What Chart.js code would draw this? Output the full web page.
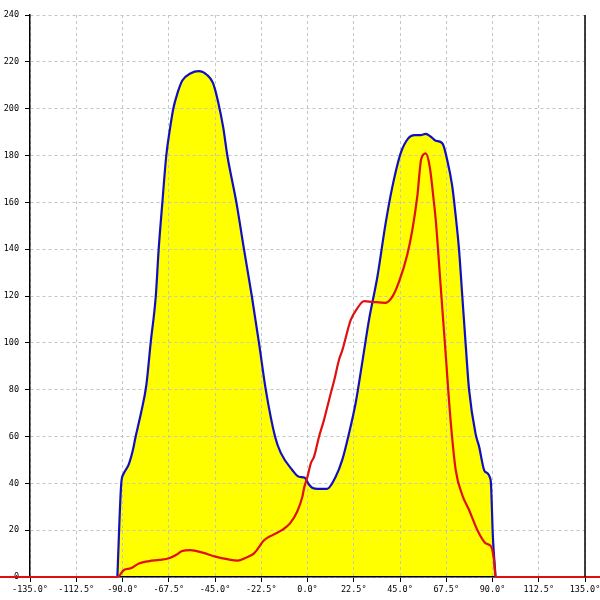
<!DOCTYPE html>
<html>
<head>
<meta charset="utf-8">
<title>Diagrama</title>
<script src="https://cdn.jsdelivr.net/npm/chart.js@4.4.0/dist/chart.umd.min.js"></script>
<style>
    html, body { margin: 0; padding: 0; background: #fff; }
    #contenedor { width: 600px; height: 600px; }
</style>
</head>
<body>
<div id="contenedor"><canvas id="chartDiagrama" width="600" height="600"></canvas></div>
<script>
// Ticks de los ejes
const ticksX = [-135, -112.5, -90, -67.5, -45, -22.5, 0, 22.5, 45, 67.5, 90, 112.5, 135];
const ticksY = [0, 20, 40, 60, 80, 100, 120, 140, 160, 180, 200, 220, 240];

// Curva azul (envolvente, rellena de amarillo)
const anguloAzul = [-92.5, -90.6, -89.5, -87, -85, -83.6, -81, -78.4, -76.3, -73.8, -72.4, -70.6,
    -68.7, -66.8, -65.3, -63.3, -60.9, -57, -52.8, -49, -46, -43.5, -41, -39, -34.6, -30.9, -27.1,
    -23.6, -20.3, -15.8, -13, -7.4, -4.1, -1.5, 0.7, 2.5, 5, 9.5, 13.7, 16.9, 20.2, 23.4, 26.7,
    29.9, 34, 38, 41.3, 45.3, 49, 52, 55, 57.5, 60, 62.4, 65.6, 68, 70.4, 72, 73.7, 75.3, 76.9,
    78.6, 81.8, 83.4, 86.3, 89.1, 90.2, 91.5];
const valorAzul = [0, 40, 44, 48, 54, 60, 70, 82, 100, 120, 140, 160,
    180, 192, 200, 206.5, 212, 215, 216, 214.5, 211, 203, 192, 180, 160, 140, 120,
    100, 80, 60, 53, 45.7, 42.8, 42.5, 39.5, 38, 37.6, 37.6, 42.8, 50, 61.4, 74.2, 92,
    109.7, 128.2, 151, 166.7, 180.9, 187.3, 188.7, 188.7, 189.2, 188, 186.3, 185.2, 178, 167, 155, 140, 120, 100,
    80, 61, 56, 45, 41.4, 17, 0];

// Curva roja
const anguloRojo = [-150, -92.5, -89.3, -86, -82, -77, -72, -67.4, -64, -61, -57, -51, -44.7, -39,
    -34, -30, -26, -21, -17, -12.3, -8.5, -5, -2.5, -1.5, 0, 1.6, 3.2, 5.6, 8, 11.3, 13, 15.3, 17,
    21, 24.2, 27.5, 31.5, 38, 41.3, 44.5, 48.5, 51, 53.4, 55.3, 57.5, 59.5, 61.5, 62.4, 64.8, 67.2,
    69.6, 72.1, 75.3, 78.6, 82.6, 86.7, 89.4, 90.7, 91.5, 150];
const valorRojo = [0, 0, 3, 3.7, 5.8, 6.8, 7.3, 8, 9.4, 11.1, 11.5, 10.4, 8.7, 7.6,
    7, 8.2, 10.1, 15.8, 17.9, 20.1, 22.9, 28, 34.3, 38.6, 42.8, 48.5, 51.4, 59.9, 67, 78.4, 84, 92.7, 97,
    109.7, 114.7, 117.8, 117.5, 117.1, 119.7, 126, 137.5, 148.2, 162.4, 178.4, 180.9, 175, 160, 152.4, 124, 95.5,
    67, 45.7, 35, 28.6, 20.1, 14.4, 12.9, 7.3, 0, 0];

const fuente = { family: '"DejaVu Sans Mono", monospace', size: 8.5 };

// Linea negra del borde derecho
const bordeDerecho = {
    id: 'bordeDerecho',
    afterDatasetsDraw(chart) {
        const { ctx, chartArea } = chart;
        ctx.save();
        ctx.strokeStyle = '#000';
        ctx.lineWidth = 1.5;
        ctx.beginPath();
        ctx.moveTo(chartArea.right, chartArea.top);
        ctx.lineTo(chartArea.right, chartArea.bottom);
        ctx.stroke();
        ctx.restore();
    }
};

const ctx = document.getElementById('chartDiagrama').getContext('2d');
new Chart(ctx, {
    type: 'line',
    data: {
        datasets: [{
            data: anguloRojo.map((a, i) => ({ x: a, y: valorRojo[i] })),
            borderColor: '#e01010',
            borderWidth: 2.2,
            pointRadius: 0,
            fill: false,
            cubicInterpolationMode: 'monotone',
            clip: false
        }, {
            data: anguloAzul.map((a, i) => ({ x: a, y: valorAzul[i] })),
            borderColor: '#1010c0',
            backgroundColor: '#ffff00',
            borderWidth: 2.2,
            pointRadius: 0,
            fill: 'origin',
            cubicInterpolationMode: 'monotone'
        }]
    },
    options: {
        responsive: false,
        animation: false,
        layout: { padding: { top: 15, right: 15, left: 0, bottom: 0 } },
        plugins: {
            legend: { display: false },
            tooltip: { enabled: false },
            filler: { drawTime: 'beforeDraw' }
        },
        scales: {
            x: {
                type: 'linear',
                min: -135,
                max: 135,
                afterBuildTicks: scale => { scale.ticks = ticksX.map(v => ({ value: v })); },
                afterFit: scale => { scale.height = 23; scale.paddingLeft = 0; scale.paddingRight = 0; },
                ticks: {
                    autoSkip: false,
                    maxRotation: 0,
                    padding: 3,
                    color: '#000',
                    font: fuente,
                    callback: v => v.toFixed(1) + '°'
                },
                grid: { color: '#c4c4c4', tickColor: '#000', tickLength: 5, lineWidth: 1 },
                border: { color: '#000', width: 1.5, dash: [3, 3] }
            },
            y: {
                min: 0,
                max: 240,
                afterBuildTicks: scale => { scale.ticks = ticksY.map(v => ({ value: v })); },
                afterFit: scale => { scale.width = 30; },
                ticks: {
                    padding: 6,
                    color: '#000',
                    font: fuente
                },
                grid: { color: '#c4c4c4', tickColor: '#000', tickLength: 5, lineWidth: 1 },
                border: { color: '#000', width: 1.5, dash: [3, 3] }
            }
        }
    },
    plugins: [bordeDerecho]
});
</script>
</body>
</html>
